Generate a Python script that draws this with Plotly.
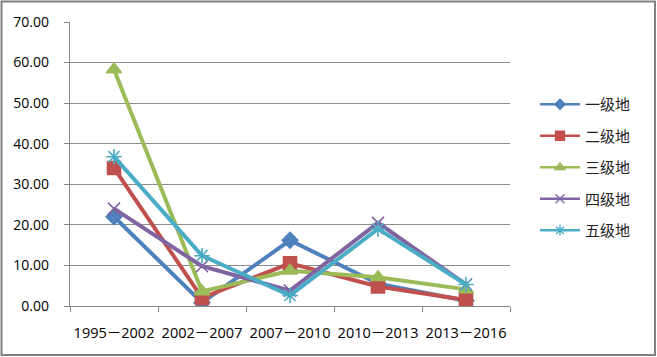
import plotly.graph_objects as go

categories = ["1995－2002", "2002－2007", "2007－2010", "2010－2013", "2013－2016"]
series_names = ["一级地", "二级地", "三级地", "四级地", "五级地"]
grade1 = [22.0, 0.8, 16.2, 5.5, 1.3]
grade2 = [34.0, 2.0, 10.5, 4.8, 1.5]
grade3 = [58.3, 3.6, 8.7, 7.1, 4.1]
grade4 = [24.0, 9.8, 3.8, 20.5, 5.3]
grade5 = [36.8, 12.4, 2.6, 19.0, 5.3]
y_ticks = [0, 10, 20, 30, 40, 50, 60, 70]

values = [grade1, grade2, grade3, grade4, grade5]
colors = ["#4F81BD", "#C0504D", "#9BBB59", "#8064A2", "#4BACC6"]
symbols = ["diamond", "square", "triangle-up", "x-thin-open", "asterisk-open"]
sizes = [12, 13, 13, 12, 13]
legend_sizes = [8, 9, 9, 9, 9]

W, H = 657, 357
L, R, T, B = 70, 147, 22, 51
pw, ph = W - L - R, H - T - B

fig = go.Figure()
for i, (name, vals) in enumerate(zip(series_names, values)):
    fig.add_trace(go.Scatter(
        x=categories, y=vals, name=name, mode="lines+markers",
        line=dict(color=colors[i], width=4),
        marker=dict(symbol=symbols[i], size=sizes[i], color=colors[i],
                    line=dict(color=colors[i], width=1.6)),
        legendgroup=name, showlegend=False, hoverinfo="skip",
    ))
    # legend-only entry with smaller symbol, as in the reference legend
    fig.add_trace(go.Scatter(
        x=[None], y=[None], name=name, mode="lines+markers",
        line=dict(color=colors[i], width=2.5),
        marker=dict(symbol=symbols[i], size=legend_sizes[i], color=colors[i],
                    line=dict(color=colors[i], width=1.3)),
        legendgroup=name, showlegend=True,
    ))

font = "Open Sans, Noto Sans CJK SC, sans-serif"
fig.update_layout(
    width=W, height=H,
    margin=dict(l=L, r=R, t=T, b=B, autoexpand=False),
    paper_bgcolor="white", plot_bgcolor="white",
    font=dict(family=font, size=14, color="#000000"),
    showlegend=True, hovermode=False,
    legend=dict(x=(535 - L) / pw, y=(H - 88 - B) / ph, xanchor="left", yanchor="top",
                font=dict(family="Noto Sans CJK SC, sans-serif", size=15, color="#222"),
                tracegroupgap=9, itemwidth=40, bgcolor="rgba(0,0,0,0)"),
    xaxis=dict(type="category", showgrid=False, showline=True, linecolor="#868686",
               linewidth=1.3, ticks="outside", tickson="boundaries", ticklen=5,
               tickcolor="#868686", tickfont=dict(size=14.5), tickangle=0,
               automargin=False, ticklabelstandoff=13, range=[-0.5, 4.5]),
    yaxis=dict(range=[0, 70], tickvals=y_ticks, ticktext=[f"{v:.2f}" for v in y_ticks],
               showgrid=True, gridcolor="#8c8c8c", gridwidth=1.2, showline=True,
               linecolor="#868686", linewidth=1.3, ticks="outside", ticklen=5,
               tickcolor="#868686", tickfont=dict(size=14), zeroline=False,
               automargin=False, ticklabelstandoff=12),
)
fig.add_shape(type="rect", xref="paper", yref="paper",
              x0=(1.5 - L) / pw, x1=(W - 2 - L) / pw,
              y0=-(H - 2 - T - ph) / ph, y1=1 + (T - 1.5) / ph,
              line=dict(color="#808080", width=2), layer="below")
fig.write_html("out.html", config={"displayModeBar": False},
               post_script="document.body.style.margin='0';")
